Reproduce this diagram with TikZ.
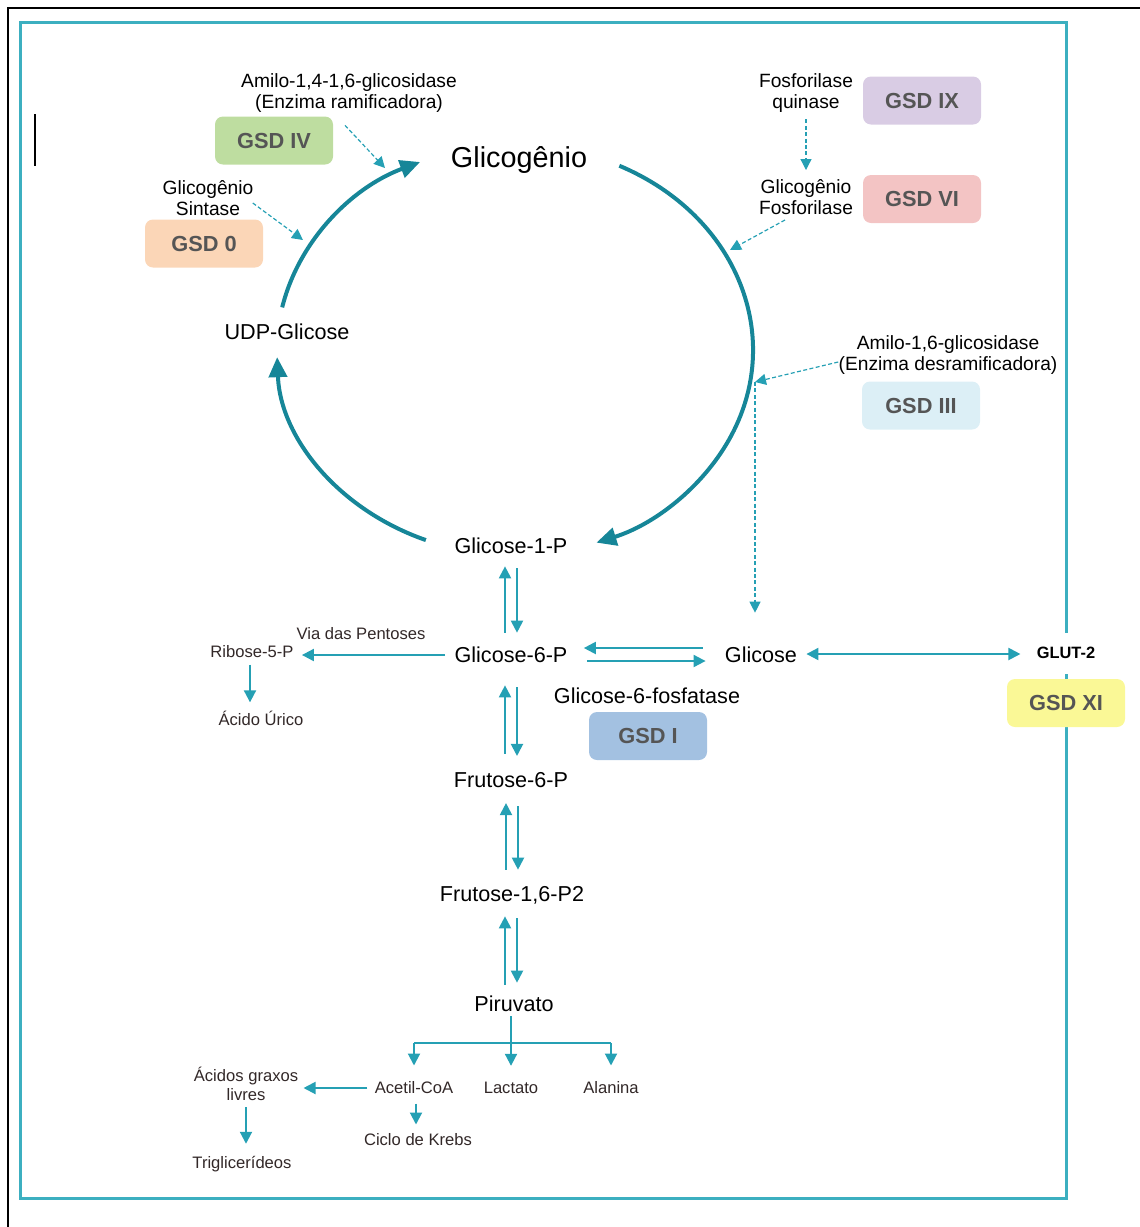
\documentclass[tikz,border=0pt]{standalone}
\usepackage{fontspec}
\setmainfont{Liberation Sans}
\usetikzlibrary{arrows.meta,calc}

\definecolor{cyclecol}{RGB}{22,134,152}
\definecolor{flowcol}{RGB}{37,160,180}
\definecolor{framecol}{RGB}{60,175,192}
\definecolor{gsdtext}{RGB}{85,85,85}
\definecolor{smalltext}{RGB}{50,40,40}
\definecolor{gsdfour}{RGB}{190,221,160}
\definecolor{gsdzero}{RGB}{251,214,183}
\definecolor{gsdnine}{RGB}{217,204,228}
\definecolor{gsdsix}{RGB}{243,196,196}
\definecolor{gsdthree}{RGB}{220,239,246}
\definecolor{gsdone}{RGB}{163,193,225}
\definecolor{gsdeleven}{RGB}{250,248,150}

\tikzset{
    cycarrow/.style={draw=cyclecol, line width=2pt, -{Triangle[length=10pt,width=9pt]}},
    flow/.style={draw=flowcol, line width=1pt, -{Triangle[length=6pt,width=6pt]}},
    flowline/.style={draw=flowcol, line width=1pt},
    enz/.style={draw=flowcol, line width=0.6pt, dash pattern=on 2pt off 1.2pt, -{Triangle[length=5.5pt,width=5.5pt]}},
    gsd/.style={rounded corners=4pt, minimum width=59pt, minimum height=24pt, font=\fontsize{10.9}{12}\selectfont\bfseries, text=gsdtext},
    met/.style={inner sep=0pt, font=\fontsize{10.8}{13}\selectfont},
    enzlabel/.style={inner sep=0pt, align=center, font=\fontsize{9.6}{10.5}\selectfont},
    small/.style={inner sep=0pt, align=center, font=\fontsize{8.3}{9.6}\selectfont, text=smalltext}
}

\begin{document}
\begin{tikzpicture}[x=0.5pt,y=-0.5pt]
            \useasboundingbox (0,0) rectangle (1140,1227);

            % page edge and frame
            \draw[line width=0.8pt] (8,1227) -- (8,8) -- (1140,8);
            \draw[line width=0.8pt] (35,114) -- (35,166);
            \draw[framecol, line width=1.5pt] (20,22) rectangle (1066,1198);

            % glycogen cycle
            \coordinate (ctr) at (515,350);
            \node[font=\fontsize{14.4}{16}\selectfont, inner sep=0pt] (glg) at (519,160) {Glicogênio};
            \node[met] (udp) at (287,332) {UDP-Glicose};
            \node[met] (g1p) at (511,546) {Glicose-1-P};

            \draw[cycarrow] (ctr) ++(192:238 and 205) arc[start angle=192, end angle=246.5, x radius=238, y radius=205];
            \draw[cycarrow] (ctr) ++(-64:238 and 205) arc[start angle=-64, end angle=70, x radius=238, y radius=205];
            \draw[cycarrow] (ctr) ++(112:238 and 205) arc[start angle=112, end angle=178, x radius=238, y radius=205];

            % enzymes
            \node[enzlabel] (ram) at (349,93.5) {Amilo-1,4-1,6-glicosidase\\(Enzima ramificadora)};
            \node[gsd, fill=gsdfour] (gsdiv) at (274,140.5) {GSD IV};
            \node[enzlabel] (sint) at (208,198) {Glicogênio\\Sintase};
            \node[gsd, fill=gsdzero] (gsd0) at (204,243.5) {GSD 0};

            \node[enzlabel] (fq) at (806,93.5) {Fosforilase\\quinase};
            \node[gsd, fill=gsdnine] (gsdix) at (922,100.5) {GSD IX};
            \node[enzlabel] (gf) at (806,197) {Glicogênio\\Fosforilase};
            \node[gsd, fill=gsdsix] (gsdvi) at (922,199) {GSD VI};
            \node[enzlabel] (desr) at (948,355) {Amilo-1,6-glicosidase\\(Enzima desramificadora)};
            \node[gsd, fill=gsdthree] (gsdiii) at (921,405.5) {GSD III};

            \coordinate (ramtip) at (385,168);
            \coordinate (sinttip) at (303,240);
            \coordinate (phtip) at (730,250);
            \coordinate (destip) at (755,382);

            \draw[enz] ([shift={(-4,12)}]ram.south) -- (ramtip);
            \draw[enz] ([shift={(-1,5)}]sint.east) -- (sinttip);
            \draw[enz, shorten <=3pt, shorten >=4.5pt] (fq.south) -- (gf.north);
            \draw[enz] ([shift={(-21,5)}]gf.south) -- (phtip);
            \draw[enz] ([shift={(0,7)}]desr.west) -- (destip);

            % glycolysis
            \node[met] (g6p) at (511,655) {Glicose-6-P};
            \node[met] (glc) at (761,655) {Glicose};
            \node[met] (f6p) at (511,780) {Frutose-6-P};
            \node[met] (f16) at (512,895) {Frutose-1,6-P2};
            \node[met] (pir) at (514,1004) {Piruvato};

            \draw[enz, shorten >=17pt] (destip) -- (destip |- glc.north);

            \draw[flow, shorten <=7pt, shorten >=6pt] ([xshift=-3pt]g6p.north) -- ([xshift=-3pt]g6p.north |- g1p.south);
            \draw[flow, shorten <=7pt, shorten >=7pt] ([xshift=3pt]g6p.north |- g1p.south) -- ([xshift=3pt]g6p.north);
            \draw[flow, shorten <=9pt, shorten >=11pt] ([xshift=-3pt]f6p.north) -- ([xshift=-3pt]f6p.north |- g6p.south);
            \draw[flow, shorten <=12pt, shorten >=8pt] ([xshift=3pt]f6p.north |- g6p.south) -- ([xshift=3pt]f6p.north);
            \draw[flow, shorten <=8pt, shorten >=7.5pt] ([xshift=-2.5pt]f6p.south |- f16.north) -- ([xshift=-2.5pt]f6p.south);
            \draw[flow, shorten <=9pt, shorten >=8pt] ([xshift=3.5pt]f6p.south) -- ([xshift=3.5pt]f6p.south |- f16.north);
            \draw[flow, shorten <=5.5pt, shorten >=6pt] ([xshift=-3.5pt]f16.south |- pir.north) -- ([xshift=-3.5pt]f16.south);
            \draw[flow, shorten <=7pt, shorten >=6.5pt] ([xshift=2.5pt]f16.south) -- ([xshift=2.5pt]f16.south |- pir.north);

            \draw[flow, shorten <=11pt, shorten >=8pt] ([yshift=3.5pt]glc.west) -- ([yshift=3.5pt]g6p.east);
            \draw[flow, shorten <=9.5pt, shorten >=9.5pt] ([yshift=-3pt]g6p.east) -- ([yshift=-3pt]glc.west);

            \node[met] (g6pase) at (647,696) {Glicose-6-fosfatase};
            \node[gsd, fill=gsdone] (gsdi) at (648,736) {GSD I};

            % transporter
            \node[fill=white, inner xsep=1pt, minimum height=20.5pt, font=\fontsize{8.2}{10}\selectfont\bfseries] (glut) at (1066,653) {GLUT-2};
            \node[gsd, fill=gsdeleven] (gsdxi) at (1066,703) {GSD XI};
            \draw[flow, {Triangle[length=6pt,width=6pt]}-{Triangle[length=6pt,width=6pt]}, shorten <=4.5pt, shorten >=7pt] ([yshift=0.5pt]glc.east) -- ([yshift=0.5pt]glc.east -| glut.west);

            % pentoses
            \node[small] (rib) at (252,652) {Ribose-5-P};
            \node[small] at (361,634) {Via das Pentoses};
            \node[small] (acu) at (261,718) {Ácido Úrico};
            \draw[flow, shorten <=4.5pt, shorten >=4pt] (g6p.west) -- (g6p.west -| rib.east);
            \draw[flow, shorten <=3pt, shorten >=4pt] ([xshift=-1pt]rib.south) -- ([xshift=-1pt]rib.south |- acu.north);

            % pyruvate fates
            \node[small] (acet) at (414,1088) {Acetil-CoA};
            \node[small] (lac) at (511,1088) {Lactato};
            \node[small] (ala) at (611,1088) {Alanina};
            \node[small] (agl) at (246,1084) {Ácidos graxos\\livres};
            \node[small] (trig) at (242,1164) {Triglicerídeos};
            \node[small] (krebs) at (418,1140) {Ciclo de Krebs};

            \coordinate (bar) at (0,1043);
            \draw[flow, shorten <=2pt, shorten >=8pt] (pir.south -| lac.north) -- (lac.north);
            \draw[flowline] (acet.north |- bar) -- (ala.north |- bar);
            \draw[flow, shorten >=8pt] (acet.north |- bar) -- (acet.north);
            \draw[flow, shorten >=8pt] (ala.north |- bar) -- (ala.north);

            \draw[flow, shorten <=3.5pt, shorten >=2.5pt] (acet.west) -- (acet.west -| agl.east);
            \draw[flow, shorten <=3pt, shorten >=6pt] (agl.south) -- (agl.south |- trig.north);
            \draw[flow, shorten <=4.5pt, shorten >=4.5pt] ([xshift=1pt]acet.south) -- ([xshift=1pt]acet.south |- krebs.north);
        \end{tikzpicture}
\end{document}
